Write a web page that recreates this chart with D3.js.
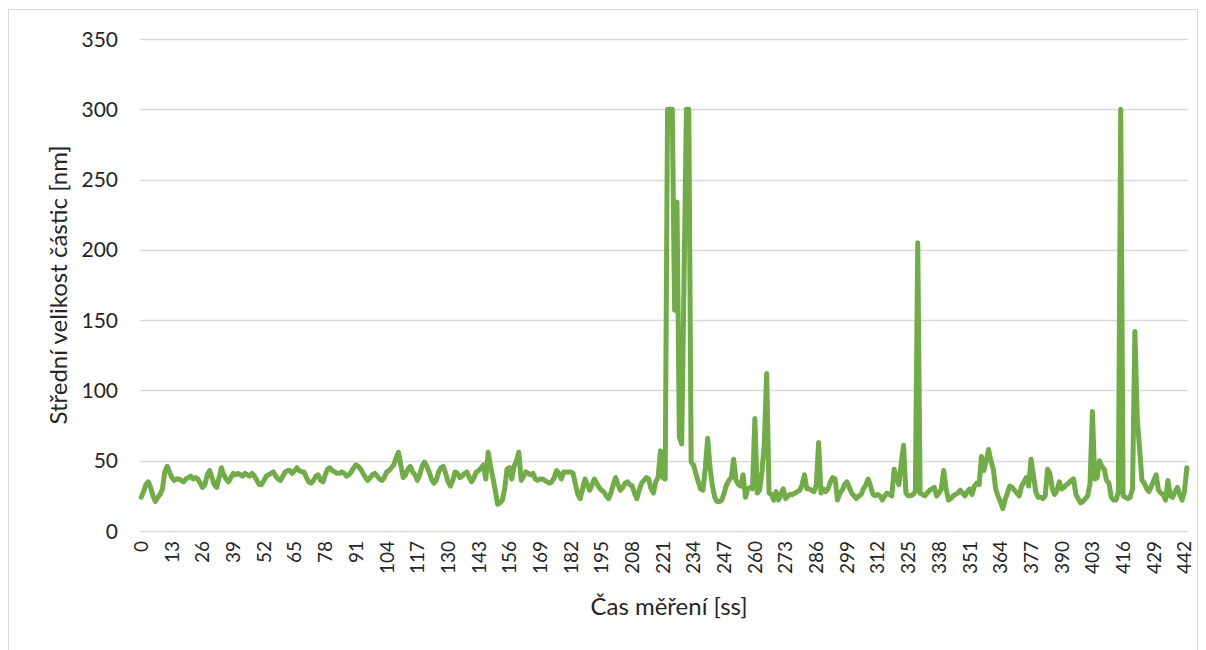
<!DOCTYPE html>
<html>
<head>
<meta charset="utf-8">
<script src="https://cdn.jsdelivr.net/npm/d3@7/dist/d3.min.js"></script>
<style>
    body { margin: 0; background: #fff; }
    svg text { font-family: Lato, "Noto Sans", sans-serif; fill: #262626; }
</style>
</head>
<body>
<div id="chart"></div>
<script>
"use strict";

// Mean particle size [nm], one value per measurement step
const particleSize = [
    24, 28, 33, 35, 31, 25, 21, 24, 26, 30,
    42, 46, 42, 38, 36, 37, 37, 36, 35, 37,
    38, 39, 37, 38, 37, 34, 31, 33, 40, 43,
    38, 33, 31, 38, 45, 40, 37, 35, 38, 41,
    40, 41, 40, 39, 41, 40, 39, 41, 39, 36,
    33, 33, 36, 39, 40, 41, 42, 39, 37, 36,
    39, 42, 43, 43, 41, 43, 45, 43, 42, 42,
    38, 35, 34, 36, 39, 40, 36, 35, 40, 44,
    45, 43, 42, 41, 41, 42, 41, 39, 40, 42,
    45, 47, 46, 44, 41, 38, 36, 38, 40, 41,
    39, 37, 36, 38, 42, 43, 45, 47, 52, 56,
    47, 38, 40, 44, 46, 42, 40, 36, 40, 46,
    49, 46, 42, 37, 34, 36, 42, 45, 46, 41,
    35, 32, 36, 42, 41, 38, 39, 41, 42, 38,
    35, 38, 42, 43, 45, 47, 37, 56, 46, 38,
    29, 19, 20, 22, 30, 44, 45, 37, 46, 50,
    56, 36, 39, 42, 41, 40, 41, 37, 36, 37,
    37, 36, 35, 34, 35, 38, 43, 41, 37, 42,
    42, 42, 42, 41, 33, 26, 23, 30, 37, 33,
    29, 33, 37, 34, 31, 29, 28, 25, 23, 27,
    33, 38, 33, 29, 31, 34, 35, 33, 32, 27,
    23, 29, 34, 36, 38, 37, 30, 27, 35, 38,
    57, 38, 37, 300, 300, 300, 157, 234, 67, 62,
    180, 300, 300, 49, 47, 41, 35, 30, 29, 45,
    66, 45, 32, 24, 21, 21, 22, 27, 33, 36,
    38, 51, 36, 33, 32, 40, 24, 30, 31, 30,
    80, 27, 29, 42, 62, 112, 27, 26, 22, 28,
    22, 26, 30, 23, 25, 26, 26, 27, 28, 29,
    33, 40, 30, 30, 29, 28, 32, 63, 27, 30,
    28, 30, 35, 38, 37, 22, 27, 29, 33, 35,
    31, 27, 25, 23, 25, 26, 30, 33, 37, 32,
    26, 25, 26, 25, 22, 25, 27, 26, 25, 44,
    38, 33, 48, 61, 27, 25, 25, 26, 28, 205,
    27, 26, 25, 27, 29, 30, 31, 25, 27, 30,
    43, 30, 22, 23, 25, 26, 27, 29, 27, 25,
    28, 30, 26, 32, 34, 33, 53, 43, 50, 58,
    50, 44, 30, 25, 21, 16, 22, 27, 32, 31,
    29, 27, 25, 32, 35, 38, 32, 51, 40, 28,
    24, 24, 23, 25, 44, 41, 30, 26, 29, 35,
    30, 31, 33, 34, 36, 37, 26, 23, 20, 21,
    23, 25, 34, 85, 37, 38, 50, 46, 44, 36,
    34, 24, 22, 22, 28, 300, 25, 24, 23, 24,
    30, 142, 80, 58, 36, 34, 30, 28, 32, 36,
    40, 29, 27, 26, 22, 36, 25, 24, 28, 31,
    26, 22, 28, 45
];

// Measurement time categories (0, 1, 2, ...)
const timeSteps = particleSize.map((_, i) => i);

const xTickLabels = [
    0, 13, 26, 39, 52, 65, 78, 91, 104, 117, 130, 143, 156, 169, 182, 195, 208, 221,
    234, 247, 260, 273, 286, 299, 312, 325, 338, 351, 364, 377, 390, 403, 416, 429, 442
];
const yTickLabels = [0, 50, 100, 150, 200, 250, 300, 350];

const xTitle = 'Čas měření [ss]';
const yTitle = 'Střední velikost částic [nm]';

const width = 1206;
const height = 650;
const plot = { left: 140, right: 1188, top: 39, bottom: 531 };

render(d3.select('#chart'));


// ------------------------- Rendering -------------------------

function render(container) {
    const svg = container.append('svg')
        .attr('width', width)
        .attr('height', height);

    // chart area frame
    svg.append('rect')
        .attr('x', 8.5)
        .attr('y', 9.5)
        .attr('width', 1189)
        .attr('height', 700)
        .attr('fill', 'none')
        .attr('stroke', '#d9d9d9')
        .attr('stroke-width', 1);

    const x = d3.scaleBand()
        .domain(timeSteps)
        .range([plot.left, plot.right]);

    const y = d3.scaleLinear()
        .domain([0, 350])
        .range([plot.bottom, plot.top]);

    const xCenter = d => x(d) + x.bandwidth() / 2;

    renderGrid(svg, y);
    renderXAxis(svg, xCenter);
    renderYAxis(svg, y);
    renderSeries(svg, xCenter, y);
    renderTitles(svg);
}

function renderGrid(svg, y) {
    svg.append('g')
        .selectAll('line')
        .data(yTickLabels)
        .enter()
        .append('line')
        .attr('x1', plot.left)
        .attr('x2', plot.right)
        .attr('y1', d => Math.round(y(d)) + 0.5)
        .attr('y2', d => Math.round(y(d)) + 0.5)
        .attr('stroke', '#d9d9d9')
        .attr('stroke-width', 1.5);
}

function renderXAxis(svg, xCenter) {
    svg.append('g')
        .selectAll('text')
        .data(xTickLabels)
        .enter()
        .append('text')
        .attr('transform', d => `translate(${xCenter(d)},${plot.bottom + 10}) rotate(-90)`)
        .attr('text-anchor', 'end')
        .attr('dy', '0.36em')
        .style('font-size', '19px')
        .text(d => d);
}

function renderYAxis(svg, y) {
    svg.append('g')
        .selectAll('text')
        .data(yTickLabels)
        .enter()
        .append('text')
        .attr('x', 118)
        .attr('y', d => y(d))
        .attr('dy', '0.36em')
        .attr('text-anchor', 'end')
        .style('font-size', '21px')
        .text(d => d);
}

function renderSeries(svg, xCenter, y) {
    const line = d3.line()
        .x((d, i) => xCenter(timeSteps[i]))
        .y(d => y(d));

    svg.append('path')
        .datum(particleSize)
        .attr('d', line)
        .attr('fill', 'none')
        .attr('stroke', '#70ad47')
        .attr('stroke-width', 5)
        .attr('stroke-linejoin', 'round')
        .attr('stroke-linecap', 'round');
}

function renderTitles(svg) {
    svg.append('text')
        .attr('x', 669)
        .attr('y', 615)
        .attr('text-anchor', 'middle')
        .style('font-size', '24px')
        .text(xTitle);

    svg.append('text')
        .attr('transform', `translate(67,${(plot.top + plot.bottom) / 2}) rotate(-90)`)
        .attr('text-anchor', 'middle')
        .style('font-size', '24px')
        .text(yTitle);
}
</script>
</body>
</html>
